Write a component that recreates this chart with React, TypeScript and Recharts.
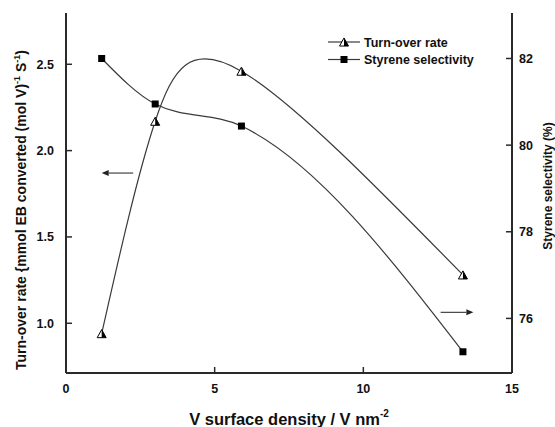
import React from "react";
import {
  ComposedChart,
  Line,
  XAxis,
  YAxis,
  ReferenceLine,
  Legend,
} from "recharts";

// ---- data ----
const densities = [1.2, 3.0, 5.9, 13.35];
const turnoverRates = [0.94, 2.17, 2.46, 1.28];
const selectivities = [82.0, 80.95, 80.44, 75.23];

const xTicks = [0, 5, 10, 15];
const leftTicks = [1.0, 1.5, 2.0, 2.5];
const rightTicks = [76, 78, 80, 82];

const seriesNames = ["Turn-over rate", "Styrene selectivity"];

const data = densities.map((d, i) => ({
  x: d,
  rate: turnoverRates[i],
  sel: selectivities[i],
}));

const FONT = "'Liberation Sans', Arial, sans-serif";
const AXIS = "#2a2a2a";
const LINE = "#3a3a3a";

const HalfTriangle = ({ cx, cy, s = 9 }: any) => {
  const h = s * 0.9;
  const top = cy - h / 2;
  const bot = cy + h / 2;
  return (
    <g>
      <polygon
        points={`${cx},${top} ${cx - s / 2},${bot} ${cx + s / 2},${bot}`}
        fill="#fff"
        stroke="#000"
        strokeWidth={1}
      />
      <polygon
        points={`${cx},${top} ${cx},${bot} ${cx + s / 2},${bot}`}
        fill="#000"
      />
    </g>
  );
};

const Square = ({ cx, cy, s = 7 }: any) => (
  <rect x={cx - s / 2} y={cy - s / 2} width={s} height={s} fill="#000" />
);

const LeftTick = ({ x, y, payload }: any) => (
  <g>
    <line x1={x} y1={y} x2={x + 6} y2={y} stroke={AXIS} strokeWidth={1.5} />
    <text
      x={x - 12}
      y={y + 4.5}
      textAnchor="end"
      fontFamily={FONT}
      fontWeight="bold"
      fontSize={12.5}
      fill="#111"
    >
      {Number(payload.value).toFixed(1)}
    </text>
  </g>
);

const RightTick = ({ x, y, payload }: any) => (
  <g>
    <line x1={x} y1={y} x2={x - 6} y2={y} stroke={AXIS} strokeWidth={1.5} />
    <text
      x={x + 7}
      y={y + 4.5}
      textAnchor="start"
      fontFamily={FONT}
      fontWeight="bold"
      fontSize={12.5}
      fill="#111"
    >
      {payload.value}
    </text>
  </g>
);

const BottomTick = ({ x, y, payload }: any) => (
  <g>
    <line x1={x} y1={y} x2={x} y2={y - 6} stroke={AXIS} strokeWidth={1.5} />
    <text
      x={x}
      y={y + 20}
      textAnchor="middle"
      fontFamily={FONT}
      fontWeight="bold"
      fontSize={12.5}
      fill="#111"
    >
      {payload.value}
    </text>
  </g>
);

const Arrow = ({ x1, y1, x2, y2 }: any) => {
  // arrowhead at (x2, y2)
  const dir = Math.sign(x2 - x1) || 1;
  const len = 7;
  return (
    <g>
      <line x1={x1} y1={y1} x2={x2 - dir * len} y2={y2} stroke="#444" strokeWidth={1.2} />
      <polygon
        points={`${x2},${y2} ${x2 - dir * len},${y2 - 3} ${x2 - dir * len},${y2 + 3}`}
        fill="#222"
      />
    </g>
  );
};

const LegendContent = () => (
  <svg width={180} height={40} style={{ display: "block" }}>
    {seriesNames.map((name, i) => {
      const y = 10 + i * 17.5;
      return (
        <g key={name}>
          <line x1={3} y1={y} x2={35} y2={y} stroke={LINE} strokeWidth={1.2} />
          {i === 0 ? <HalfTriangle cx={19} cy={y} s={9} /> : <Square cx={19} cy={y} s={7} />}
          <text
            x={39}
            y={y + 4.5}
            fontFamily={FONT}
            fontWeight="bold"
            fontSize={12.5}
            fill="#111"
          >
            {name}
          </text>
        </g>
      );
    })}
  </svg>
);

const XTitle = () => (
  <text
    x={289}
    y={425}
    textAnchor="middle"
    fontFamily={FONT}
    fontWeight="bold"
    fontSize={16.5}
    fill="#111"
  >
    V surface density / V nm
    <tspan fontSize={10} dy={-8}>-2</tspan>
  </text>
);

const LeftTitle = () => (
  <text
    transform="translate(26, 210) rotate(-90)"
    textAnchor="middle"
    fontFamily={FONT}
    fontWeight="bold"
    fontSize={14}
    fill="#111"
  >
    Turn-over rate {"{"}mmol EB converted (mol V)
    <tspan fontSize={9} dy={-6}>-1</tspan>
    <tspan dy={6}> S</tspan>
    <tspan fontSize={9} dy={-6}>-1</tspan>
    <tspan dy={6}>)</tspan>
  </text>
);

const RightTitle = () => (
  <text
    transform="translate(552, 186) rotate(-90)"
    textAnchor="middle"
    fontFamily={FONT}
    fontWeight="bold"
    fontSize={12}
    fill="#111"
  >
    Styrene selectivity (%)
  </text>
);

export default function App() {
  return (
    <div style={{ position: "absolute", left: 0, top: 0, background: "#fff" }}>
      <ComposedChart
        width={555}
        height={427}
        data={data}
        margin={{ top: 13, right: 3, bottom: 10, left: 6 }}
      >
        <XAxis
          dataKey="x"
          type="number"
          domain={[0, 15]}
          ticks={xTicks}
          allowDataOverflow
          height={44}
          axisLine={{ stroke: AXIS, strokeWidth: 2 }}
          tickLine={false}
          tickSize={0}
          tickMargin={0}
          tick={<BottomTick />}
          interval={0}
          label={{ content: () => <XTitle /> }}
        />
        <XAxis
          xAxisId="top"
          orientation="top"
          type="number"
          domain={[0, 15]}
          height={0}
          tick={false}
          tickLine={false}
          axisLine={{ stroke: AXIS, strokeWidth: 2 }}
        />
        <YAxis
          yAxisId="left"
          orientation="left"
          type="number"
          domain={[0.712, 2.797]}
          ticks={leftTicks}
          allowDataOverflow
          width={60}
          axisLine={{ stroke: AXIS, strokeWidth: 2 }}
          tickLine={false}
          tickSize={0}
          tickMargin={0}
          tick={<LeftTick />}
          interval={0}
          label={{ content: () => <LeftTitle /> }}
        />
        <YAxis
          yAxisId="right"
          orientation="right"
          type="number"
          domain={[74.74, 83.05]}
          ticks={rightTicks}
          allowDataOverflow
          width={40}
          axisLine={{ stroke: AXIS, strokeWidth: 2 }}
          tickLine={false}
          tickSize={0}
          tickMargin={0}
          tick={<RightTick />}
          interval={0}
          label={{ content: () => <RightTitle /> }}
        />
        <Legend
          layout="vertical"
          align="center"
          verticalAlign="middle"
          content={<LegendContent />}
          wrapperStyle={{ position: "absolute", left: 325, top: 32, width: 180, height: 40 }}
        />
        <ReferenceLine
          yAxisId="left"
          segment={[
            { x: 2.26, y: 1.87 },
            { x: 1.2, y: 1.87 },
          ]}
          shape={(p: any) => <Arrow {...p} />}
        />
        <ReferenceLine
          yAxisId="right"
          segment={[
            { x: 12.6, y: 76.14 },
            { x: 13.7, y: 76.14 },
          ]}
          shape={(p: any) => <Arrow {...p} />}
        />
        <Line
          yAxisId="left"
          dataKey="rate"
          name={seriesNames[0]}
          type="natural"
          stroke={LINE}
          strokeWidth={1.2}
          isAnimationActive={false}
          dot={(p: any) => <HalfTriangle key={`t${p.index}`} cx={p.cx} cy={p.cy} />}
          activeDot={false}
        />
        <Line
          yAxisId="right"
          dataKey="sel"
          name={seriesNames[1]}
          type="monotone"
          stroke={LINE}
          strokeWidth={1.2}
          isAnimationActive={false}
          dot={(p: any) => <Square key={`s${p.index}`} cx={p.cx} cy={p.cy} />}
          activeDot={false}
        />
      </ComposedChart>
    </div>
  );
}
